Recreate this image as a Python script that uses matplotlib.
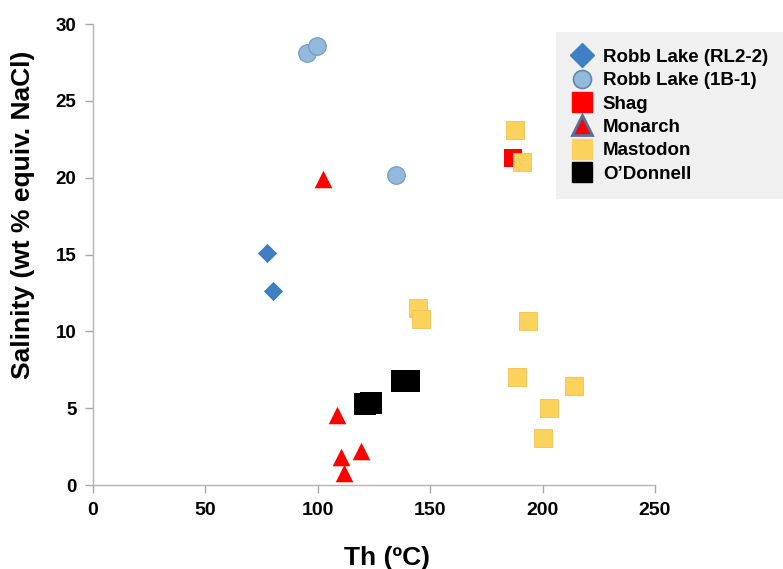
import matplotlib
matplotlib.use("Agg")
import matplotlib.pyplot as plt
from matplotlib.lines import Line2D

plt.rcParams['font.family'] = ['Liberation Sans', 'DejaVu Sans']
plt.rcParams['font.weight'] = 'bold'

# data: Th (deg C) vs salinity (wt % NaCl eq.)
robb_rl_th = [77.3, 80.2]
robb_rl_sal = [15.1, 12.6]

robb_1b_th = [95.2, 99.5, 134.8]
robb_1b_sal = [28.1, 28.6, 20.2]

shag_th = [186.7]
shag_sal = [21.3]

monarch_th = [102.2, 108.4, 119.1, 110.2, 111.7]
monarch_sal = [19.9, 4.55, 2.2, 1.8, 0.8]

mastodon_th = [187.7, 191.0, 144.7, 145.8, 193.6, 188.8, 214.0, 202.8, 200.0]
mastodon_sal = [23.1, 21.0, 11.5, 10.8, 10.7, 7.05, 6.44, 4.99, 3.04]

odonnell_th = [121.0, 123.5, 137.5, 140.5]
odonnell_sal = [5.25, 5.35, 6.8, 6.8]

labels = ["Robb Lake (RL2-2)", "Robb Lake (1B-1)", "Shag", "Monarch",
          "Mastodon", "O\u2019Donnell"]

x_ticks = [0, 50, 100, 150, 200, 250]
y_ticks = [0, 5, 10, 15, 20, 25, 30]

BLUE = '#3f7fc3'
LBLUE = '#93b9dc'
RED = '#ff0000'
YELLOW = '#fbd25c'


def main():
    fig = plt.figure(figsize=(7.83, 5.69), dpi=100)
    ax = fig.add_axes([0.1188, 0.1476, 0.7177, 0.8102])

    ax.scatter(robb_rl_th, robb_rl_sal, marker='D', s=85, color=BLUE,
               edgecolors='#3a74b4', linewidths=0.5, zorder=3)
    ax.scatter(robb_1b_th, robb_1b_sal, marker='o', s=160, color=LBLUE,
               edgecolors='#6f97bd', linewidths=0.8, zorder=3)
    ax.scatter(shag_th, shag_sal, marker='s', s=165, color=RED,
               linewidths=0, zorder=3)
    ax.scatter(monarch_th, monarch_sal, marker='^', s=160, color=RED,
               linewidths=0, zorder=3)
    ax.scatter(mastodon_th, mastodon_sal, marker='s', s=170, color=YELLOW,
               edgecolors='#efc24e', linewidths=0.6, zorder=3)
    ax.scatter(odonnell_th, odonnell_sal, marker='s', s=260, color='black',
               linewidths=0, zorder=3)

    ax.set_xlim(0, 250)
    ax.set_ylim(0, 30)
    ax.set_xticks(x_ticks)
    ax.set_yticks(y_ticks)
    ax.tick_params(axis='both', direction='out', length=6, width=1,
                   color='#a8a8a8', pad=6)
    ax.tick_params(axis='x', labelsize=14)
    ax.tick_params(axis='y', labelsize=13.5)
    for lab in ax.get_xticklabels() + ax.get_yticklabels():
        lab.set_fontweight('bold')
    for side in ['top', 'right']:
        ax.spines[side].set_visible(False)
    for side in ['left', 'bottom']:
        ax.spines[side].set_color('#b4b4b4')
        ax.spines[side].set_linewidth(1)

    ax.set_xlabel('Th (\u00baC)', fontsize=19, fontweight='bold')
    ax.xaxis.set_label_coords(0.523, -0.132)
    ax.set_ylabel('Salinity (wt % equiv. NaCl)', fontsize=19,
                  fontweight='bold')
    ax.yaxis.set_label_coords(-0.104, 0.586)

    handles = [
        Line2D([], [], ls='', marker='D', ms=12, color=BLUE,
               markeredgecolor=BLUE),
        Line2D([], [], ls='', marker='o', ms=13, color=LBLUE,
               markeredgecolor='#5f86ad', markeredgewidth=1.2),
        Line2D([], [], ls='', marker='s', ms=14, color=RED,
               markeredgecolor=RED),
        Line2D([], [], ls='', marker='^', ms=14, color=RED,
               markeredgecolor='#5a6e9a', markeredgewidth=2),
        Line2D([], [], ls='', marker='s', ms=14, color=YELLOW,
               markeredgecolor=YELLOW),
        Line2D([], [], ls='', marker='s', ms=15, color='black'),
    ]
    leg = fig.legend(handles, labels, loc='upper left',
                     bbox_to_anchor=(556 / 783, 1 - 32 / 569),
                     frameon=True, fancybox=False, facecolor='#f0f0f0',
                     edgecolor='none', framealpha=1, fontsize=13.5,
                     labelspacing=0.33, handlelength=1.0, handletextpad=0.6,
                     borderpad=0.9, borderaxespad=0)
    for t in leg.get_texts():
        t.set_fontweight('bold')

    fig.savefig('out.png', dpi=100)
    plt.close(fig)


if __name__ == '__main__':
    main()
